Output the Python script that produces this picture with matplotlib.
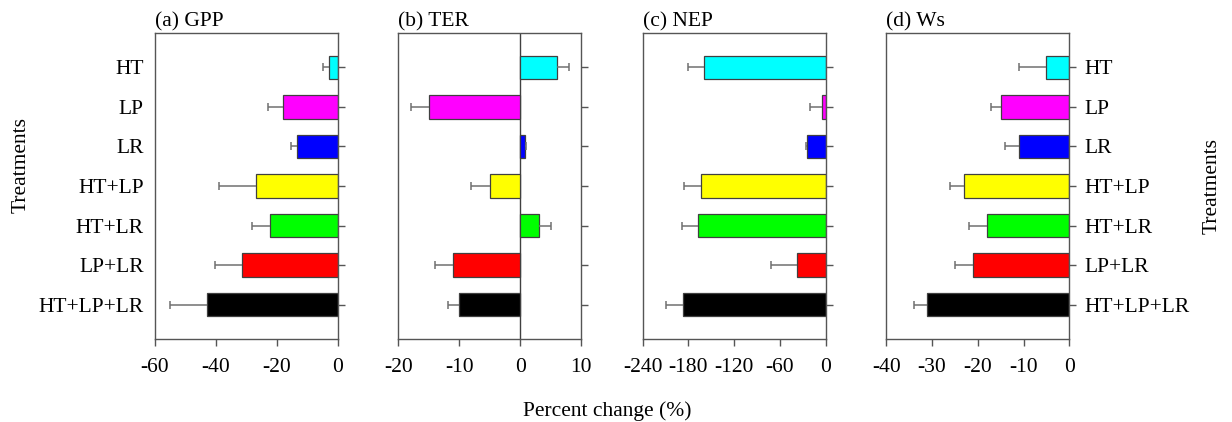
"""Percent change of GPP, TER, NEP and Ws under each treatment."""

import numpy as np
import matplotlib
matplotlib.use('Agg')
import matplotlib.pyplot as plt


treatments = ['HT', 'LP', 'LR', 'HT+LP', 'HT+LR', 'LP+LR', 'HT+LP+LR']
bar_colors = ['#00FFFF', '#FF00FF', '#0000FF', '#FFFF00', '#00FF00', '#FF0000', '#000000']

gpp = [-2.8, -18, -13.5, -27, -22.3, -31.4, -43]
gpp_err = [2, 5, 2, 12, 6, 9, 12]

ter = [6, -15, 0.8, -5, 3, -11, -10]
ter_err = [2, 3, 0.2, 3, 2, 3, 1.8]

nep = [-159, -5, -24, -163, -168, -38, -187]
nep_err = [21, 15, 2, 23, 21, 34, 23]

ws = [-5, -15, -11, -23, -18, -21, -31]
ws_err = [6, 2, 3, 3, 4, 4, 3]

panels = [
    ('(a) GPP', gpp, gpp_err, (-60, 0), [-60, -40, -20, 0]),
    ('(b) TER', ter, ter_err, (-20, 10), [-20, -10, 0, 10]),
    ('(c) NEP', nep, nep_err, (-240, 0), [-240, -180, -120, -60, 0]),
    ('(d) Ws', ws, ws_err, (-40, 0), [-40, -30, -20, -10, 0]),
]

FONT = 15.5
plt.rcParams['font.family'] = ['Liberation Serif', 'DejaVu Serif']
plt.rcParams['axes.unicode_minus'] = False

EDGE = '#555555'
ERR = '#707070'


def main():
    fig = plt.figure(figsize=(12.32, 4.22), dpi=100)

    lefts = [0.1258, 0.3233, 0.5217, 0.7194]
    width = 0.1485
    bottom = 0.1967
    height = 0.725

    pos = np.arange(len(treatments))

    for i, (title, vals, errs, xlim, xticks) in enumerate(panels):
        ax = fig.add_axes([lefts[i], bottom, width, height])

        vals = np.array(vals, dtype=float)
        errs = np.array(errs, dtype=float)
        # one-sided error bar, pointing away from zero
        ends = vals + np.sign(vals) * errs

        ax.barh(pos, vals, height=0.6, color=bar_colors,
                edgecolor='#404040', linewidth=0.9, zorder=2)
        ax.hlines(pos, vals, ends, color=ERR, linewidth=1.1, zorder=3)
        ax.plot(ends, pos, linestyle='none', marker='|', markersize=6,
                markeredgewidth=1.1, color=ERR, zorder=3)

        if xlim[0] < 0 < xlim[1]:
            ax.axvline(0, color='#404040', linewidth=1, zorder=1)

        ax.set_xlim(*xlim)
        ax.set_ylim(len(treatments) - 1 + 0.87, -0.87)
        ax.set_xticks(xticks)
        ax.set_yticks(pos)
        ax.set_yticklabels(treatments)

        ax.tick_params(axis='x', direction='out', length=5, width=1,
                       color=EDGE, labelsize=FONT, pad=9)
        ax.tick_params(axis='y', direction='out', length=5, width=1,
                       color=EDGE, labelsize=FONT, pad=3,
                       left=False, right=True,
                       labelleft=(i == 0), labelright=(i == 3))
        if i == 3:
            ax.tick_params(axis='y', pad=6)

        for sp in ax.spines.values():
            sp.set_color(EDGE)
            sp.set_linewidth(1)

        ax.set_title(title, loc='left', fontsize=FONT, pad=5)

    fig.text(0.493, 0.015, 'Percent change (%)', ha='center', va='baseline',
             fontsize=FONT)
    fig.text(0.017, 0.61, 'Treatments', rotation=90, ha='center', va='center',
             fontsize=FONT)
    fig.text(0.984, 0.56, 'Treatments', rotation=90, ha='center', va='center',
             fontsize=FONT)

    fig.savefig('out.png', dpi=100)


if __name__ == '__main__':
    main()
